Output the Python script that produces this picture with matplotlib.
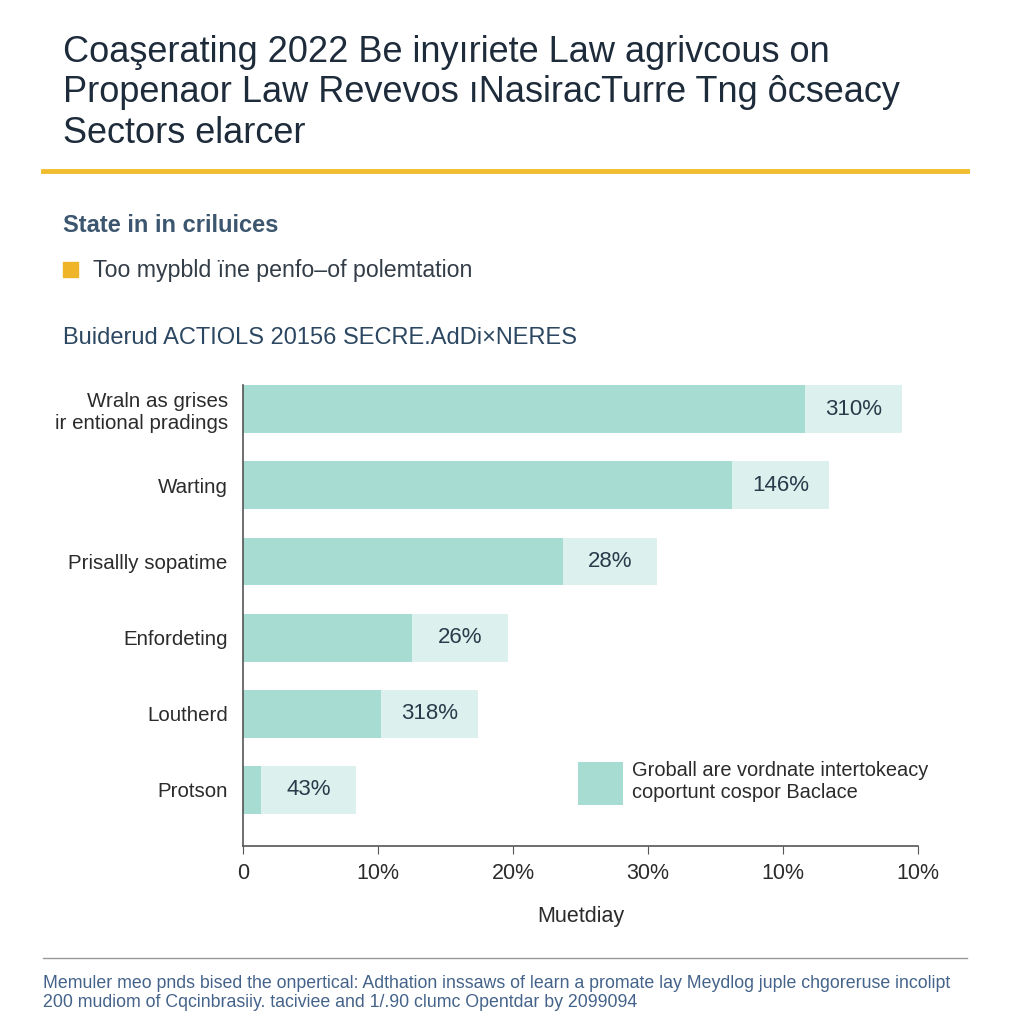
import matplotlib.pyplot as plt
from matplotlib.patches import Rectangle

# chart data
categories = ["Wraln as grises\nir entional pradings", "Warting", "Prisallly sopatime",
              "Enfordeting", "Loutherd", "Protson"]
values = [41.6, 36.2, 23.7, 12.5, 10.2, 1.3]
label_box = [7.2, 7.2, 7.0, 7.1, 7.2, 7.1]
bar_labels = ["310%", "146%", "28%", "26%", "318%", "43%"]
tick_values = [0, 10, 20, 30, 40, 50]
tick_labels = ["0", "10%", "20%", "30%", "10%", "10%"]

title = ("Coaşerating 2022 Be inyıriete Law agrivcous on\n"
         "Propenaor Law Revevos ıNasiracTurre Tng ôcseacy\n"
         "Sectors elarcer")
subtitle = "State in in criluices"
note = "Too mypbld ïne penfo–of polemtation"
chart_title = "Buiderud ACTIOLS 20156 SECRE.AdDi×NERES"
legend_text = "Groball are vordnate intertokeacy\ncoportunt cospor Baclace"
xlabel = "Muetdiay"
footer = ("Memuler meo pnds bised the onpertical: Adthation inssaws of learn a promate lay Meydlog juple chgoreruse incolipt\n"
          "200 mudiom of Cqcinbrasiiy. taciviee and 1/.90 clumc Opentdar by 2099094")

dark = "#a7dcd2"
light = "#dcf1ed"
navy = "#1d2b3a"

plt.rcParams['font.family'] = ['Liberation Sans', 'DejaVu Sans']
fig = plt.figure(figsize=(10.24, 10.24), dpi=100)

# header texts
fig.text(63 / 1024, 1 - 35 / 1024, title, fontsize=26, color=navy, va="top",
         ha="left", linespacing=1.2)
fig.add_artist(plt.Line2D([43 / 1024, 967 / 1024], [1 - 171 / 1024] * 2,
                          color="#efbd2e", lw=3.5))
fig.text(63 / 1024, 1 - 226 / 1024, subtitle, fontsize=17, color="#3b566e",
         fontweight="bold", va="center")
fig.add_artist(Rectangle((63 / 1024, 1 - 277 / 1024), 15 / 1024, 15 / 1024,
                         color="#f0b429", transform=fig.transFigure))
fig.text(93 / 1024, 1 - 270 / 1024, note, fontsize=16.7, color="#333d47", va="center")
fig.text(63 / 1024, 1 - 338 / 1024, chart_title, fontsize=17, color="#2c4761", va="center")

# bar chart
ax = fig.add_axes([243 / 1024, 1 - 846 / 1024, 675 / 1024, 461 / 1024])
y = range(len(categories))
bars = ax.barh(y, values, height=0.63, color=dark, label=legend_text)
ax.barh(y, label_box, left=values, height=0.63, color=light)
for i in y:
    ax.text(values[i] + label_box[i] / 2, i, bar_labels[i], ha="center", va="center",
            fontsize=16, color="#2a3a4a")

ax.set_xlim(0, 50)
ax.set_ylim(5.74, -0.32)
ax.set_yticks(list(y))
ax.set_yticklabels(categories, fontsize=14.8, color="#2b2b2b")
ax.set_xticks(tick_values)
ax.set_xticklabels(tick_labels, fontsize=15.5, color="#2b2b2b")
ax.tick_params(axis="y", length=0, pad=11)
ax.tick_params(axis="x", length=6, color="#555555", pad=6)
for s in ["top", "right"]:
    ax.spines[s].set_visible(False)
for s in ["left", "bottom"]:
    ax.spines[s].set_color("#555555")
    ax.spines[s].set_linewidth(1.2)
ax.set_xlabel(xlabel, fontsize=15.5, color="#2b2b2b", labelpad=16)

ax.legend(handles=[bars], loc="center left", bbox_to_anchor=(0.47, 0.137),
          frameon=False, fontsize=14.4, handlelength=2.25, handleheight=2.9,
          handletextpad=0.45, labelcolor="#2b2b2b")

# footer
fig.add_artist(plt.Line2D([43 / 1024, 967 / 1024], [1 - 958 / 1024] * 2,
                          color="#999999", lw=1))
fig.text(43 / 1024, 1 - 975 / 1024, footer, fontsize=12.75, color="#44638a",
         va="top", linespacing=1.15)

fig.savefig("out.png", dpi=100, facecolor="white")
